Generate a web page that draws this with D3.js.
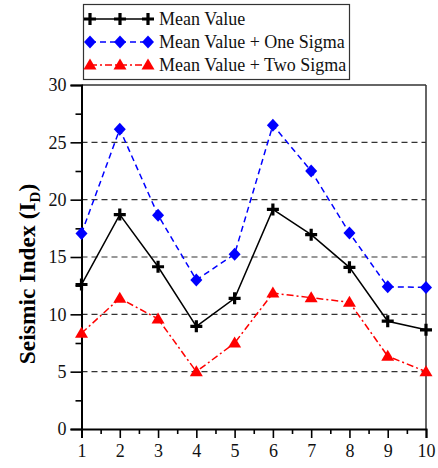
<!DOCTYPE html>
<html><head><meta charset="utf-8">
<script src="https://cdn.jsdelivr.net/npm/d3@7"></script>
<style>body{margin:0;background:#fff}svg{display:block}
text{font-family:"Liberation Serif","Times New Roman",serif}</style>
</head><body>
<script>
const categories = [1,2,3,4,5,6,7,8,9,10];
const meanValue = [12.6,18.7,14.15,8.95,11.4,19.15,16.95,14.1,9.4,8.65];
const meanOneSigma = [17.05,26.15,18.65,13.0,15.25,26.5,22.5,17.1,12.4,12.35];
const meanTwoSigma = [8.35,11.4,9.6,5.0,7.5,11.85,11.45,11.05,6.35,5.0];
const yTicks = [0,5,10,15,20,25,30];
const seriesNames = ["Mean Value","Mean Value + One Sigma","Mean Value + Two Sigma"];

const W=438,H=468;
const m={l:81.5,r:12,t:85,b:39};
const svg=d3.select("body").append("svg").attr("width",W).attr("height",H);
const x=d3.scaleLinear().domain([1,10]).range([m.l,W-m.r]);
const y=d3.scaleLinear().domain([0,30]).range([H-m.b,m.t]);
const FF='"Liberation Serif","Times New Roman",serif';

// grid
svg.append("g").selectAll("line").data([5,10,15,20,25]).join("line")
  .attr("x1",x(1)).attr("x2",x(10)).attr("y1",d=>y(d)).attr("y2",d=>y(d))
  .attr("stroke","#333").attr("stroke-width",1.2).attr("stroke-dasharray","6,4");

// frame top/right
svg.append("line").attr("x1",x(1)).attr("x2",x(10)).attr("y1",y(30)).attr("y2",y(30)).attr("stroke","#333").attr("stroke-width",1.5);
svg.append("line").attr("x1",x(10)).attr("x2",x(10)).attr("y1",y(30)).attr("y2",y(0)).attr("stroke","#333").attr("stroke-width",1.5);

// axes
const yAx=svg.append("g").attr("transform",`translate(${x(1)},0)`)
  .call(d3.axisLeft(y).tickValues(yTicks).tickSize(11).tickPadding(4));
const yMinor=svg.append("g").attr("transform",`translate(${x(1)},0)`)
  .call(d3.axisLeft(y).tickValues(d3.range(2.5,30,5)).tickSize(6).tickFormat(""));
const xAx=svg.append("g").attr("transform",`translate(0,${y(0)})`)
  .call(d3.axisBottom(x).tickValues(categories).tickSize(9).tickPadding(6).tickFormat(d3.format("d")));
const xMinor=svg.append("g").attr("transform",`translate(0,${y(0)})`)
  .call(d3.axisBottom(x).tickValues(d3.range(1.5,10,1)).tickSize(5).tickFormat(""));
[yAx,yMinor,xAx,xMinor].forEach(g=>{
  g.attr("font-family",FF).attr("font-size",18);
  g.selectAll(".domain").attr("stroke","#000").attr("stroke-width",2);
  g.selectAll(".tick line").attr("stroke","#000").attr("stroke-width",1.6);
  g.selectAll("text").attr("fill","#111");
});
xMinor.select(".domain").remove(); yMinor.select(".domain").remove();

// y title
svg.append("text").attr("transform",`translate(35,${274}) rotate(-90)`)
  .attr("text-anchor","middle").attr("font-family",FF).attr("font-weight","bold").attr("font-size",23.5)
  .html('Seismic Index (I<tspan font-size="15" dy="5">D</tspan><tspan dy="-5">)</tspan>');

const styles=[
  {data:meanValue,color:"#000",dash:null,sym:"cross",w:1.5},
  {data:meanOneSigma,color:"#0000ff",dash:"6,4",sym:"diamond",w:1.5},
  {data:meanTwoSigma,color:"#ff0000",dash:"7,3,2,3",sym:"triangle",w:1.5}
];
function marker(g,type,cx,cy,color){
  if(type==="cross"){
    g.append("path").attr("d",`M${cx-6},${cy}H${cx+6}M${cx},${cy-6}V${cy+6}`)
      .attr("stroke",color).attr("stroke-width",3.2).attr("fill","none");
  } else if(type==="diamond"){
    g.append("path").attr("d",`M${cx},${cy-6.5}L${cx+6},${cy}L${cx},${cy+6.5}L${cx-6},${cy}Z`).attr("fill",color);
  } else {
    g.append("path").attr("d",`M${cx},${cy-6.5}L${cx+6.5},${cy+4.5}L${cx-6.5},${cy+4.5}Z`).attr("fill",color);
  }
}
const line=d3.line().x((d,i)=>x(categories[i])).y(d=>y(d));
styles.forEach(s=>{
  svg.append("path").datum(s.data).attr("d",line).attr("fill","none")
    .attr("stroke",s.color).attr("stroke-width",s.w).attr("stroke-dasharray",s.dash);
  const g=svg.append("g");
  s.data.forEach((d,i)=>marker(g,s.sym,x(categories[i]),y(d),s.color));
});

// legend
const lg=svg.append("g");
lg.append("rect").attr("x",83.5).attr("y",4.5).attr("width",266).attr("height",75)
  .attr("fill","#fff").attr("stroke","#333").attr("stroke-width",1.2);
const rowsY=[19,42,65];
styles.forEach((s,i)=>{
  const yy=rowsY[i];
  lg.append("line").attr("x1",90).attr("x2",148).attr("y1",yy).attr("y2",yy)
    .attr("stroke",s.color).attr("stroke-width",s.w).attr("stroke-dasharray",s.dash);
  [90,120,148].forEach(cx=>marker(lg,s.sym,cx,yy,s.color));
  lg.append("text").attr("x",159).attr("y",yy+6).attr("font-family",FF).attr("font-size",18)
    .attr("fill","#111").text(seriesNames[i]);
});
</script>
</body></html>
